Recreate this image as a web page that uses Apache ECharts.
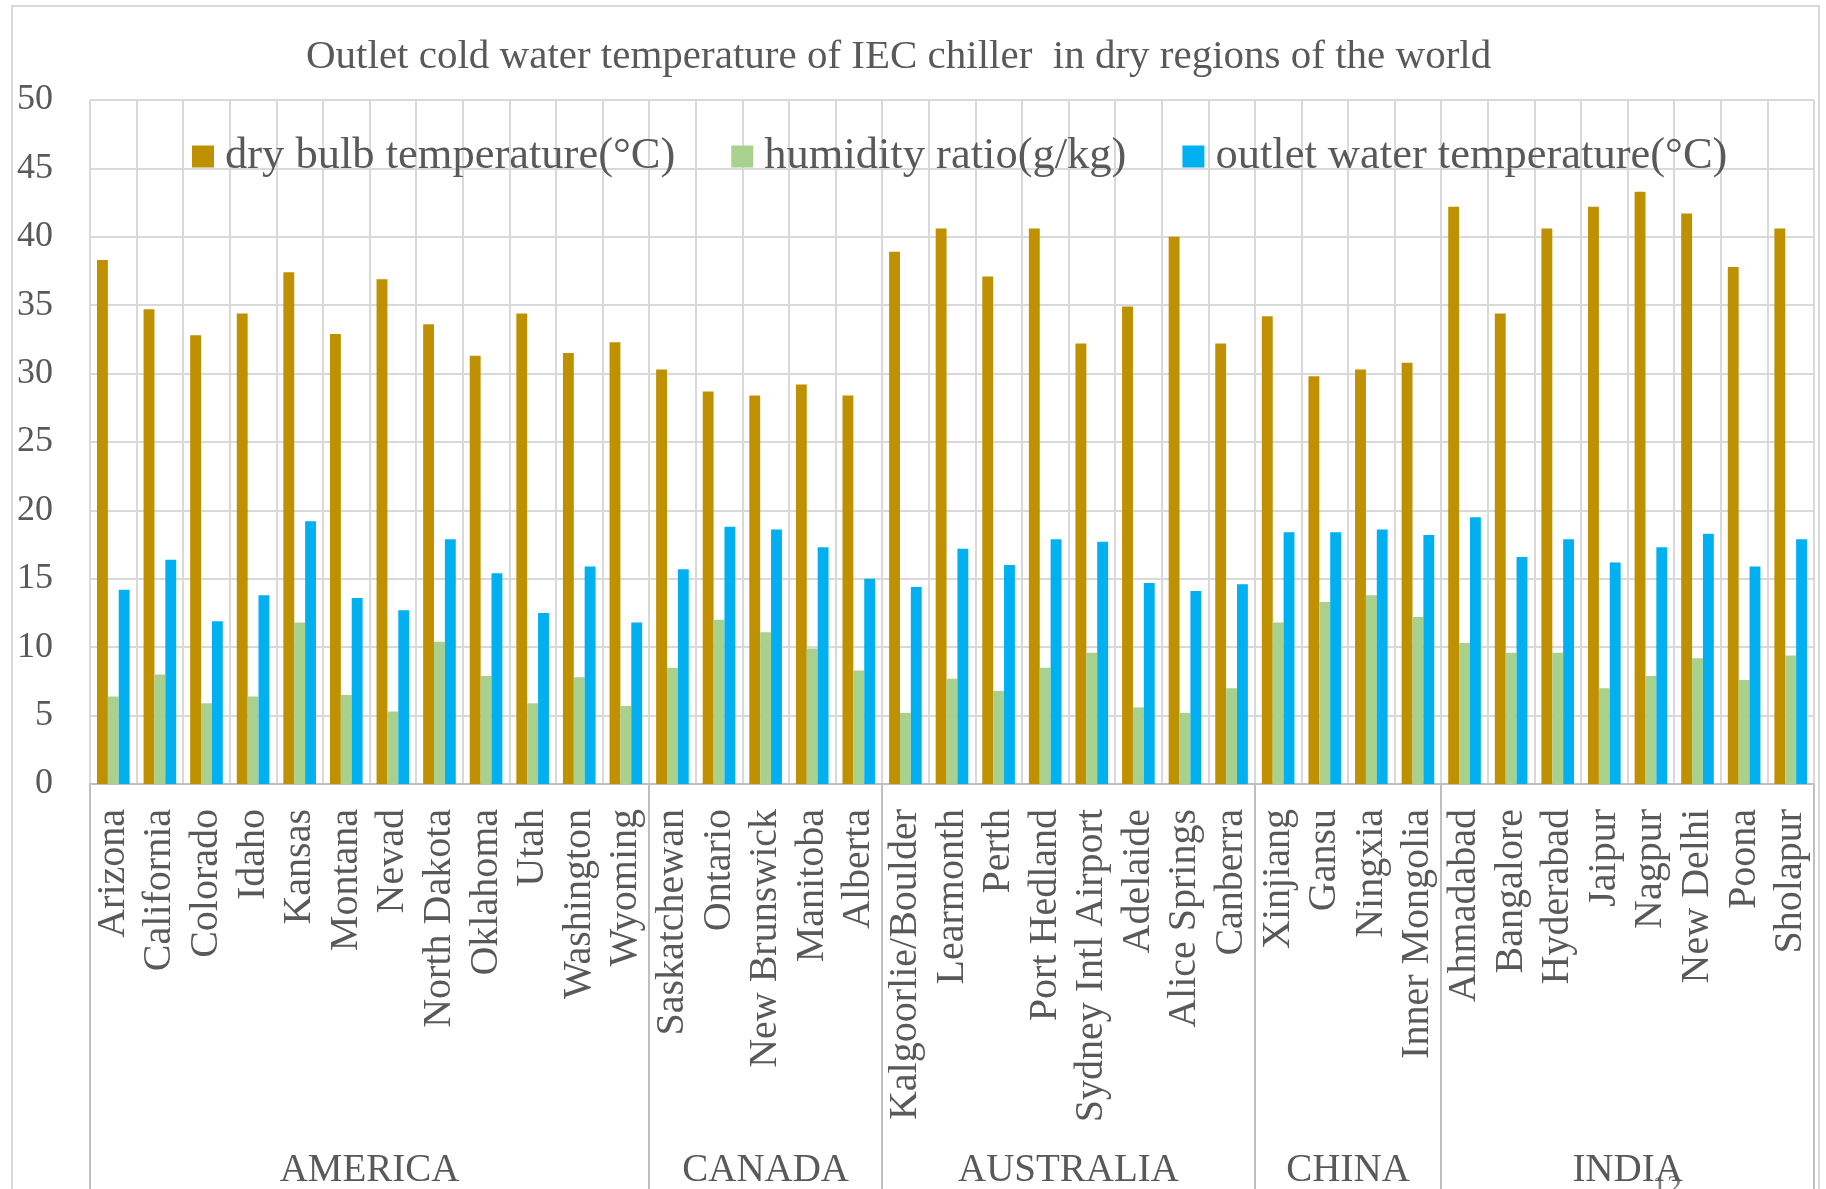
<!DOCTYPE html>
<html>
<head>
<meta charset="utf-8">
<title>Outlet cold water temperature of IEC chiller</title>
<script src="https://cdn.jsdelivr.net/npm/echarts@6/dist/echarts.min.js"></script>
<style>
  html, body { margin: 0; padding: 0; background: #ffffff; }
  #chart { width: 1826px; height: 1189px; }
</style>
</head>
<body>
<div id="chart"></div>
<script>
// Locations, in region order
const cities = [
  'Arizona', 'California', 'Colorado', 'Idaho', 'Kansas', 'Montana', 'Nevad',
  'North Dakota', 'Oklahoma', 'Utah', 'Washington', 'Wyoming',
  'Saskatchewan', 'Ontario', 'New Brunswick', 'Manitoba', 'Alberta',
  'Kalgoorlie/Boulder', 'Learmonth', 'Perth', 'Port Hedland', 'Sydney Intl Airport',
  'Adelaide', 'Alice Springs', 'Canberra',
  'Xinjiang', 'Gansu', 'Ningxia', 'Inner Mongolia',
  'Ahmadabad', 'Bangalore', 'Hyderabad', 'Jaipur', 'Nagpur', 'New Delhi', 'Poona', 'Sholapur'
];

// Regions and how many locations each one holds
const regions = ['AMERICA', 'CANADA', 'AUSTRALIA', 'CHINA', 'INDIA'];
const regionCounts = [12, 5, 8, 4, 8];

// Series values
const dryBulb = [
  38.3, 34.7, 32.8, 34.4, 37.4, 32.9, 36.9, 33.6, 31.3, 34.4, 31.5, 32.3,
  30.3, 28.7, 28.4, 29.2, 28.4,
  38.9, 40.6, 37.1, 40.6, 32.2, 34.9, 40.0, 32.2,
  34.2, 29.8, 30.3, 30.8,
  42.2, 34.4, 40.6, 42.2, 43.3, 41.7, 37.8, 40.6
];
const humidity = [
  6.4, 8.0, 5.9, 6.4, 11.8, 6.5, 5.3, 10.4, 7.9, 5.9, 7.8, 5.7,
  8.5, 12.0, 11.1, 9.9, 8.3,
  5.2, 7.7, 6.8, 8.5, 9.6, 5.6, 5.2, 7.0,
  11.8, 13.3, 13.8, 12.2,
  10.3, 9.6, 9.6, 7.0, 7.9, 9.2, 7.6, 9.4
];
const outlet = [
  14.2, 16.4, 11.9, 13.8, 19.2, 13.6, 12.7, 17.9, 15.4, 12.5, 15.9, 11.8,
  15.7, 18.8, 18.6, 17.3, 15.0,
  14.4, 17.2, 16.0, 17.9, 17.7, 14.7, 14.1, 14.6,
  18.4, 18.4, 18.6, 18.2,
  19.5, 16.6, 17.9, 16.2, 17.3, 18.3, 15.9, 17.9
];

const seriesNames = ['dry bulb temperature(°C)', 'humidity ratio(g/kg)', 'outlet water temperature(°C)'];
const yTicks = { min: 0, max: 50, interval: 5 };

// Region axis: one slot per half location, so region centres and borders fall on slots
const halfSlots = cities.length * 2;
const regionAxisData = new Array(halfSlots + 1).fill('');
const regionBorders = new Set([halfSlots]);
let start = 0;
regions.forEach((name, i) => {
  regionBorders.add(start * 2);
  regionAxisData[start * 2 + regionCounts[i]] = name;
  start += regionCounts[i];
});

const FONT = 'Liberation Serif';
const TEXT = '#595959';
const GRID = '#D9D9D9';
const AXIS = '#BFBFBF';

const chart = echarts.init(document.getElementById('chart'), null, { renderer: 'canvas' });

chart.setOption({
  animation: false,
  backgroundColor: '#ffffff',
  textStyle: { fontFamily: FONT },
  title: {
    text: 'Outlet cold water temperature of IEC chiller  in dry regions of the world',
    left: 306,
    top: 37,
    padding: 0,
    textStyle: { fontFamily: FONT, fontSize: 41, fontWeight: 'normal', color: TEXT }
  },
  legend: {
    data: seriesNames,
    left: 192,
    top: 134,
    padding: 0,
    itemWidth: 22,
    itemHeight: 22,
    itemGap: 56,
    icon: 'rect',
    textStyle: { fontFamily: FONT, fontSize: 44.5, color: TEXT, padding: [7, 0, 0, 6] }
  },
  grid: {
    left: 90,
    right: 12,
    top: 100,
    bottom: 405,
    containLabel: false,
    outerBoundsMode: 'none'
  },
  xAxis: [
    {
      type: 'category',
      data: cities,
      position: 'bottom',
      axisLine: { show: true, lineStyle: { color: AXIS, width: 2 } },
      axisTick: { show: false },
      splitLine: { show: true, interval: 0, lineStyle: { color: GRID, width: 2 } },
      axisLabel: {
        interval: 0,
        rotate: 90,
        margin: 25,
        fontFamily: FONT,
        fontSize: 40,
        color: TEXT
      }
    },
    {
      type: 'category',
      data: regionAxisData,
      boundaryGap: false,
      position: 'bottom',
      offset: 0,
      axisLine: { show: false },
      splitLine: { show: false },
      axisTick: {
        show: true,
        interval: (idx) => regionBorders.has(idx),
        length: 420,
        lineStyle: { color: AXIS, width: 2 }
      },
      axisLabel: {
        interval: (idx, val) => val !== '',
        margin: 367,
        fontFamily: FONT,
        fontSize: 39,
        color: TEXT
      }
    }
  ],
  yAxis: {
    type: 'value',
    min: yTicks.min,
    max: yTicks.max,
    interval: yTicks.interval,
    axisLine: { show: false },
    axisTick: { show: false },
    splitLine: { show: true, lineStyle: { color: GRID, width: 2 } },
    axisLabel: { margin: 37, fontFamily: FONT, fontSize: 36, color: TEXT }
  },
  series: [
    { name: seriesNames[0], type: 'bar', data: dryBulb, itemStyle: { color: '#BF9000' },
      barGap: '0%', barCategoryGap: '30%' },
    { name: seriesNames[1], type: 'bar', data: humidity, itemStyle: { color: '#A9D18E' },
      barGap: '0%', barCategoryGap: '30%' },
    { name: seriesNames[2], type: 'bar', data: outlet, itemStyle: { color: '#00B0F0' },
      barGap: '0%', barCategoryGap: '30%' }
  ],
  graphic: [
    {
      type: 'rect',
      silent: true,
      shape: { x: 12, y: 6, width: 1807, height: 1200 },
      style: { fill: 'none', stroke: GRID, lineWidth: 2 }
    },
    {
      type: 'text',
      silent: true,
      left: 1652,
      top: 1172,
      style: { text: '12', font: '30px "Liberation Serif"', fill: '#7f7f7f' }
    }
  ]
});
</script>
</body>
</html>
